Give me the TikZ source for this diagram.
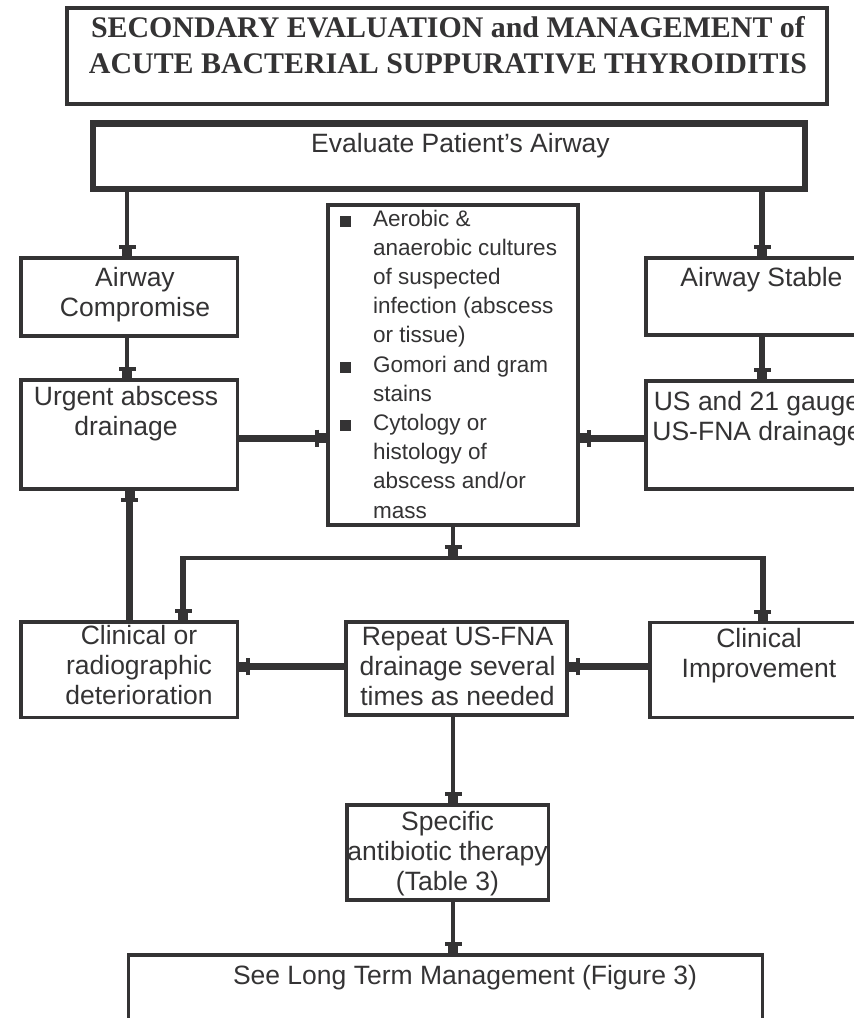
\documentclass[tikz,border=0pt]{standalone}
\usepackage{fontspec}
\setmainfont{Liberation Sans}
\newfontfamily\titlefont{Liberation Serif}
\usetikzlibrary{arrows.meta}
\definecolor{ink}{RGB}{52,51,52}
\newcommand\mylines[1]{\begin{tabular}[t]{@{}c@{}}#1\end{tabular}}
\newcommand\mybul{\rule[-1bp]{11bp}{11bp}}
\begin{document}
\begin{tikzpicture}[x=1bp,y=-1bp,
  box/.style={draw=ink, inner sep=0pt, line width=3.5bp},
  txt/.style={anchor=base, inner sep=0pt, text=ink, font=\fontsize{26.5bp}{30bp}\selectfont},
  arr/.style={-{Bar[width=17bp,line width=4bp]Rectangle[length=7bp,width=10bp]}},
  conn/.style={draw=ink, line width=#1}]
\useasboundingbox (0,0) rectangle (854,1018);
\fill[white] (0,0) rectangle (854,1018);

% boxes
\node[box, line width=4bp, minimum width=760bp, minimum height=96bp] (title) at (447,56) {};
\node[box, line width=6.5bp, minimum width=711.5bp, minimum height=65.5bp] (eval) at (449,156) {};
\node[box, minimum width=216.5bp, minimum height=78.2bp] (comp) at (129.3,296.85) {};
\node[box, minimum width=232.5bp, minimum height=77.2bp] (stable) at (762,296.35) {};
\node[box, minimum width=216.5bp, minimum height=108.9bp] (urgent) at (129.3,434.5) {};
\node[box, minimum width=232.5bp, minimum height=108.2bp] (us) at (762,434.85) {};
\node[box, line width=4bp, minimum width=250bp, minimum height=320bp] (mid) at (453,364.7) {};
\node[box, minimum width=216.5bp, minimum height=95.5bp] (clinrad) at (129.3,669.5) {};
\node[box, minimum width=220.9bp, minimum height=93.2bp] (repeat) at (456.5,668.35) {};
\node[box, minimum width=218.2bp, minimum height=94.8bp] (clinimp) at (759.15,669.85) {};
\node[box, minimum width=201.5bp, minimum height=95.2bp] (specific) at (447.5,852.35) {};
\node[box, minimum width=633.5bp, minimum height=103.5bp] (seelong) at (445.5,1006.5) {};

% texts
\node[txt, font=\fontsize{29.9bp}{36bp}\selectfont\titlefont\bfseries] (titleT) at (448,37)
  {\mylines{SECONDARY EVALUATION and MANAGEMENT of\\ACUTE BACTERIAL SUPPURATIVE THYROIDITIS}};
\node[txt] (evalT) at (460.5,152) {Evaluate Patient's Airway};
\node[txt] (compT) at (135,286.7) {\mylines{Airway\\Compromise}};
\node[txt] (stableT) at (761.5,286.7) {Airway Stable};
\node[txt] (urgentT) at (126,405) {\mylines{Urgent abscess\\drainage}};
\node[txt] (usT) at (757,410) {\mylines{US and 21 gauge\\US-FNA drainage}};
\node[txt] (clinradT) at (139,644) {\mylines{Clinical or\\radiographic\\deterioration}};
\node[txt] (repeatT) at (457.5,645) {\mylines{Repeat US-FNA\\drainage several\\times as needed}};
\node[txt] (clinimpT) at (759,647) {\mylines{Clinical\\Improvement}};
\node[txt] (specificT) at (447.5,830) {\mylines{Specific\\antibiotic therapy\\(Table 3)}};
\node[txt] (seelongT) at (465,984) {See Long Term Management (Figure 3)};
\node[txt, anchor=base west, font=\fontsize{22.5bp}{29.2bp}\selectfont] (midT) at (340,226)
  {\begin{tabular}[t]{@{}p{33bp}@{}l@{}}
   \mybul & Aerobic \&\\
   & anaerobic cultures\\
   & of suspected\\
   & infection (abscess\\
   & or tissue)\\
   \mybul & Gomori and gram\\
   & stains\\
   \mybul & Cytology or\\
   & histology of\\
   & abscess and/or\\
   & mass
   \end{tabular}};

% helper coordinates
\coordinate (xL) at (127,0);
\coordinate (xU) at (129.5,0);
\coordinate (xM) at (453,0);
\coordinate (yA) at (0,438);
\coordinate (yB) at (0,666.5);
\coordinate (brL) at (183,557.7);
\coordinate (brM) at (453,557.7);
\coordinate (brR) at (762.5,557.7);

% connectors
\draw[conn=3.3bp, arr] (eval.south -| xL) -- (comp.north -| xL);
\draw[conn=6bp, arr] (eval.south -| stable.north) -- (stable.north);
\draw[conn=3.3bp, arr] (comp.south -| xL) -- (urgent.north -| xL);
\draw[conn=6bp, arr] (stable.south) -- (us.north);
\draw[conn=7bp, arr] (urgent.east |- yA) -- (mid.west |- yA);
\draw[conn=7bp, arr] (us.west |- yA) -- (mid.east |- yA);
\draw[conn=4bp, arr, shorten >=2bp] (mid.south -| xM) -- (brM);
\draw[conn=4bp, shorten <=-3bp, shorten >=-3bp] (brL) -- (brR);
\draw[conn=6bp, arr] (brL) -- (clinrad.north -| brL);
\draw[conn=6bp, arr] (brR) -- (clinimp.north -| brR);
\draw[conn=7bp, arr] (clinrad.north -| xU) -- (urgent.south -| xU);
\draw[conn=7bp, arr] (repeat.west |- yB) -- (clinrad.east |- yB);
\draw[conn=7bp, arr] (clinimp.west |- yB) -- (repeat.east |- yB);
\draw[conn=4bp, arr] (repeat.south -| xM) -- (specific.north -| xM);
\draw[conn=4bp, arr] (specific.south -| xM) -- (seelong.north -| xM);
\end{tikzpicture}
\end{document}
